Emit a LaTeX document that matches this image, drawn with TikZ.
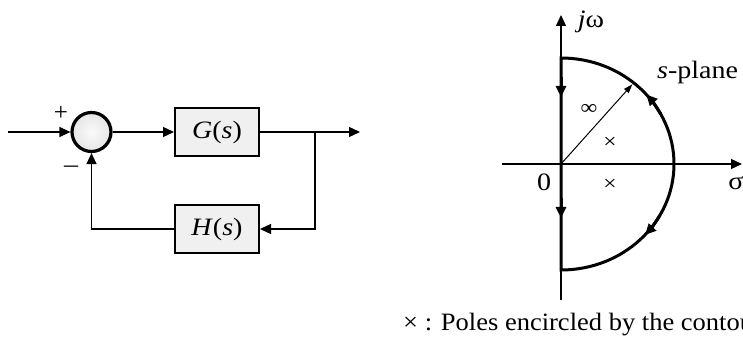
\documentclass[tikz,border=0pt]{standalone}
\usepackage{fontspec}
\setmainfont{Liberation Serif}
\usetikzlibrary{arrows.meta,calc}
\newcommand{\wdx}[2][1.12]{\scalebox{#1}[1]{#2}}
\tikzset{
  lbl/.style={inner sep=0pt,font=\fontsize{25}{30}\selectfont},
  sml/.style={inner sep=0pt,font=\fontsize{21}{25}\selectfont},
  arr/.style={line width=1.3pt,-{Triangle[length=11pt,width=10pt]}},
  blk/.style={draw,line width=2pt,fill=gray!12,minimum width=84pt,minimum height=48pt,inner sep=0pt,font=\fontsize{25}{30}\selectfont},
  sumc/.style={circle,draw,line width=3.2pt,inner color=gray!4,outer color=gray!20,minimum size=39pt,inner sep=0pt},
  axis/.style={line width=1.2pt,-{Triangle[length=11pt,width=10pt]}},
  contour/.style={line width=3pt,line join=miter},
  ctip/.style={line width=3pt,-{Triangle[length=11pt,width=10pt]}},
  rad/.style={line width=1pt,-{Triangle[length=9pt,width=6pt]}}
}
\begin{document}
\begin{tikzpicture}[x=1pt,y=1pt]
\useasboundingbox (0,0) rectangle (743,339);
% ---------- block diagram ----------
\node[sumc] (sum) at (91.5,207) {};
\node[blk] (G) at (217,207) {\wdx{\textit{G}(\textit{s})}};
\node[blk] (H) at (217,110) {\wdx{\textit{H}(\textit{s})}};
\coordinate (in) at (8,207);
\coordinate (out) at (360,207);
\coordinate (br) at (315,207);
\draw[arr] (in) -- (sum.west);
\draw[arr] (sum.east) -- (G.west);
\draw[arr] (G.east) -- (out);
\draw[arr] (br) |- (H.east);
\draw[arr] (H.west) -| (sum.south);
\node[lbl] (plus) at (61,226) {+};
\node[lbl] (minus) at (71,170) {\wdx{–}};
% ---------- s-plane ----------
\coordinate (O) at (561,175);
\coordinate (vb) at (561,39);
\coordinate (vt) at (561,324);
\coordinate (hl) at (502,175);
\coordinate (hr) at (742,175);
\coordinate (top) at (561,281);
\coordinate (bot) at (561,69);
\draw[axis] (vb) -- (vt);
\draw[axis] (hl) -- (hr);
\draw[contour] (bot) -- (top) arc[start angle=90,end angle=-90,x radius=113,y radius=106] -- cycle;
% arrows on the imaginary axis
\coordinate (a1s) at (561,262);
\coordinate (a1e) at (561,242);
\coordinate (a2s) at (561,141);
\coordinate (a2e) at (561,121);
\draw[ctip] (a1s) -- (a1e);
\draw[ctip] (a2s) -- (a2e);
% arrows on the arc
\coordinate (b1s) at ($(O)+(28:113 and 106)$);
\coordinate (b2s) at ($(O)+(-29:113 and 106)$);
\draw[ctip] (b1s) arc[start angle=28,end angle=41,x radius=113,y radius=106];
\draw[ctip] (b2s) arc[start angle=-29,end angle=-42,x radius=113,y radius=106];
% radius
\coordinate (rt) at ($(O)+(50:111 and 104)$);
\draw[rad] (O) -- (rt);
% labels
\node[lbl] (jw) at (591,317) {\wdx{\textit{j}ω}};
\node[lbl,anchor=base west] (sp) at (657,260) {\wdx{\textit{s}-plane}};
\node[sml] (inf) at (589,230) {\wdx{∞}};
\node[sml] (p1) at (610,196) {\wdx{×}};
\node[sml] (p2) at (610,154) {\wdx{×}};
\node[lbl] (zero) at (544,157) {\wdx{0}};
\node[lbl] (sig) at (736,155.5) {\wdx{σ}};
\node[inner sep=0pt,anchor=base west,font=\fontsize{25}{30}\selectfont] (note) at (403,8) {\wdx[1.06]{× : Poles encircled by the contour}};
\end{tikzpicture}
\end{document}
